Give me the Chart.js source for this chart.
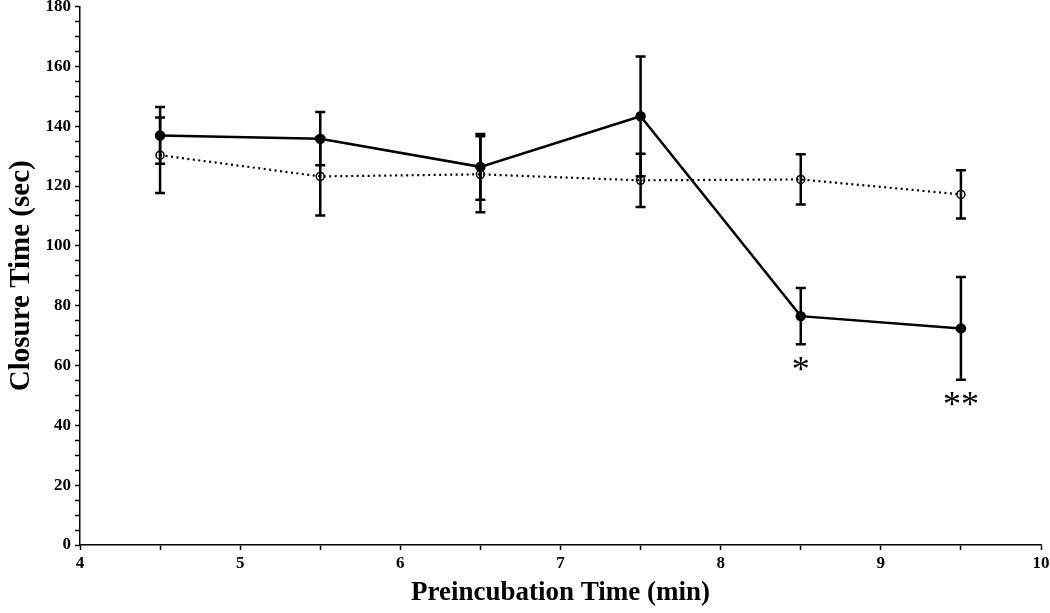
<!DOCTYPE html>
<html>
<head>
<meta charset="utf-8">
<script src="https://cdn.jsdelivr.net/npm/chart.js@4/dist/chart.umd.min.js"></script>
<style>
    html, body { margin: 0; padding: 0; background: #fff; }
    #wrap { width: 1050px; height: 613px; }
</style>
</head>
<body>
<div id="wrap"><canvas id="closureChart" width="1050" height="613"></canvas></div>
<script>
// Data
const preincTimes = [4.5, 5.5, 6.5, 7.5, 8.5, 9.5];
const solidMeans = [136.9, 135.8, 126.4, 143.3, 76.5, 72.4];
const solidErr = [9.5, 8.9, 11.0, 20.0, 9.4, 17.2];
const openMeans = [130.3, 123.2, 123.9, 121.9, 122.2, 117.2];
const openErr = [12.6, 13.1, 12.7, 8.9, 8.4, 8.1];
const sigMarks = ['', '', '', '', '*', '**'];

const xTickLabels = [4, 5, 6, 7, 8, 9, 10];
const yTickLabels = [0, 20, 40, 60, 80, 100, 120, 140, 160, 180];

const serif = "'Liberation Serif', 'Times New Roman', serif";

function toPoints(means) {
    return preincTimes.map((x, i) => ({ x: x, y: means[i] }));
}

// Error bars with caps, drawn under the points
const errorBarPlugin = {
    id: 'errorBars',
    beforeDatasetsDraw(chart) {
        const ctx = chart.ctx;
        const xs = chart.scales.x;
        const ys = chart.scales.y;
        const sets = [[openMeans, openErr], [solidMeans, solidErr]];
        ctx.save();
        ctx.strokeStyle = '#000';
        ctx.lineWidth = 2.5;
        sets.forEach(([means, errs]) => {
            preincTimes.forEach((t, i) => {
                const px = xs.getPixelForValue(t);
                const top = ys.getPixelForValue(means[i] + errs[i]);
                const bot = ys.getPixelForValue(means[i] - errs[i]);
                ctx.beginPath();
                ctx.moveTo(px, top);
                ctx.lineTo(px, bot);
                ctx.moveTo(px - 5, top);
                ctx.lineTo(px + 5, top);
                ctx.moveTo(px - 5, bot);
                ctx.lineTo(px + 5, bot);
                ctx.stroke();
            });
        });
        ctx.restore();
    }
};

// Significance asterisks under the solid series error bars
const sigPlugin = {
    id: 'sigMarks',
    afterDatasetsDraw(chart) {
        const ctx = chart.ctx;
        const xs = chart.scales.x;
        const ys = chart.scales.y;
        ctx.save();
        ctx.fillStyle = '#000';
        ctx.font = '36px ' + serif;
        ctx.textAlign = 'center';
        ctx.textBaseline = 'top';
        sigMarks.forEach((mark, i) => {
            if (!mark) return;
            const px = xs.getPixelForValue(preincTimes[i]);
            const py = ys.getPixelForValue(solidMeans[i] - solidErr[i]);
            ctx.fillText(mark, px, py + 9);
        });
        ctx.restore();
    }
};

const ctx = document.getElementById('closureChart').getContext('2d');
new Chart(ctx, {
    type: 'scatter',
    data: {
        datasets: [
            {
                label: 'Control',
                data: toPoints(openMeans),
                showLine: true,
                borderColor: '#000',
                borderWidth: 2.2,
                borderDash: [2, 3.5],
                pointRadius: 4,
                pointBorderWidth: 1.5,
                pointBackgroundColor: 'rgba(255,255,255,0)',
                pointBorderColor: '#000'
            },
            {
                label: 'Treated',
                data: toPoints(solidMeans),
                showLine: true,
                borderColor: '#000',
                borderWidth: 2.5,
                pointRadius: 4,
                pointBackgroundColor: '#000',
                pointBorderColor: '#000'
            }
        ]
    },
    options: {
        responsive: false,
        animation: false,
        layout: { padding: { top: 6, right: 9, left: 0, bottom: 0 } },
        plugins: {
            legend: { display: false },
            tooltip: { enabled: false }
        },
        scales: {
            x: {
                type: 'linear',
                min: 4,
                max: 10,
                afterFit(scale) {
                    scale.height = 68;
                    scale.paddingLeft = 0;
                    scale.paddingRight = 0;
                },
                border: { color: '#000', width: 1.5 },
                grid: { drawOnChartArea: false, drawTicks: true, tickLength: 5, tickColor: '#000', tickWidth: 1.5 },
                ticks: {
                    stepSize: 0.5,
                    color: '#000',
                    padding: 3,
                    font: { family: serif, size: 17, weight: 'bold' },
                    callback: v => xTickLabels.includes(v) ? String(v) : ''
                },
                title: {
                    display: true,
                    text: 'Preincubation Time (min)',
                    color: '#000',
                    padding: { top: 6 },
                    font: { family: serif, size: 27, weight: 'bold' }
                }
            },
            y: {
                type: 'linear',
                min: 0,
                max: 180,
                afterFit(scale) {
                    scale.width = 80;
                    scale.paddingTop = 0;
                    scale.paddingBottom = 0;
                },
                border: { color: '#000', width: 1.5 },
                grid: { drawOnChartArea: false, drawTicks: true, tickLength: 5, tickColor: '#000', tickWidth: 1.5 },
                ticks: {
                    stepSize: 5,
                    autoSkip: false,
                    color: '#000',
                    padding: 4,
                    font: { family: serif, size: 17, weight: 'bold' },
                    callback: v => yTickLabels.includes(v) ? String(v) : ''
                },
                title: {
                    display: true,
                    text: 'Closure Time (sec)',
                    color: '#000',
                    padding: { bottom: 2 },
                    font: { family: serif, size: 29, weight: 'bold' }
                }
            }
        }
    },
    plugins: [errorBarPlugin, sigPlugin]
});
</script>
</body>
</html>
